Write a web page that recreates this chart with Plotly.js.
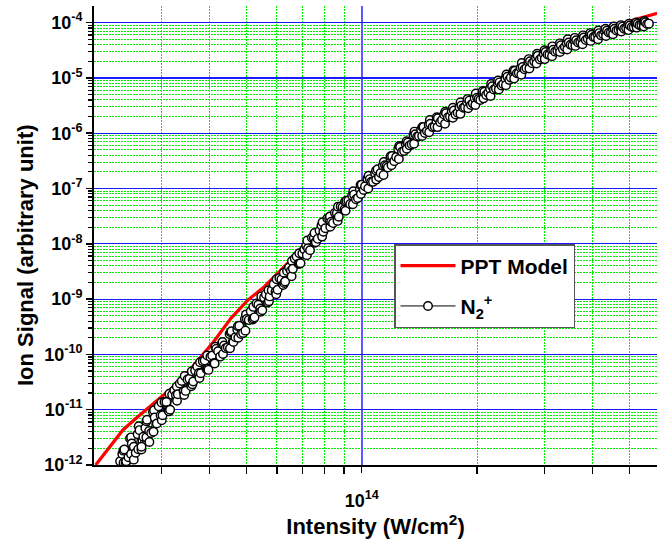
<!DOCTYPE html>
<html>
<head>
<meta charset="utf-8">
<script src="https://cdn.plot.ly/plotly-3.0.1.min.js"></script>
<style>html,body{margin:0;padding:0;background:#fff;}#chart{width:657px;height:539px;}</style>
</head>
<body>
<div id="chart"></div>
<script>
// N2+ measured points, intensity in units of 1e13 W/cm^2 (four read-outs of the dense band)
const n2IntensityA = [
 2.34, 2.40, 2.42, 2.46, 2.51, 2.54, 2.57, 2.63, 2.66, 2.69, 2.75, 2.79, 2.82, 2.88, 2.95,
 3.02, 3.09, 3.16, 3.24, 3.31, 3.39, 3.47, 3.55, 3.63, 3.72, 3.80, 3.89, 3.98, 4.07, 4.17,
 4.27, 4.37, 4.47, 4.57, 4.68, 4.79, 4.90, 5.01, 5.13, 5.25, 5.37, 5.50, 5.62, 5.75, 5.89,
 6.03, 6.17, 6.31, 6.46, 6.61, 6.76, 6.92, 7.08, 7.24, 7.41, 7.59, 7.76, 7.94, 8.13, 8.32,
 8.51, 8.71, 8.91, 9.12, 9.33, 9.55, 9.77, 10.0, 10.2, 10.5, 10.7, 11.0, 11.2, 11.5, 11.7,
 12.0, 12.3, 12.6, 12.9, 13.2, 13.5, 13.8, 14.1, 14.5, 14.8, 15.1, 15.5, 15.8, 16.2, 16.6,
 17.0, 17.4, 17.8, 18.2, 18.6, 19.1, 19.5, 20.0, 20.4, 20.9, 21.4, 21.9, 22.4, 22.9, 23.4,
 24.0, 24.5, 25.1, 25.7, 26.3, 26.9, 27.5, 28.2, 28.8, 29.5, 30.2, 30.9, 31.6, 32.4, 33.1,
 33.9, 34.7, 35.5, 36.3, 37.2, 38.0, 38.9, 39.8, 40.7, 41.7, 42.7, 43.7, 44.7, 45.7, 46.8,
 47.9, 49.0, 50.1, 51.3, 52.5, 53.7, 55.0, 56.2
];
const n2SignalA = [
 1.17e-12, 1.91e-12, 1.10e-12, 1.38e-12, 2.45e-12, 1.25e-12, 1.66e-12, 4.27e-12, 1.9e-12, 3.24e-12, 6.61e-12, 2.6e-12, 3.80e-12, 7.24e-12, 1.15e-11,
 7.94e-12, 1.38e-11, 1.00e-11, 2.24e-11, 1.91e-11, 3.31e-11, 2.19e-11, 3.63e-11, 3.24e-11, 6.03e-11, 4.57e-11, 7.76e-11, 5.25e-11, 9.55e-11, 1.26e-10,
 9.12e-11, 1.45e-10, 1.35e-10, 2.63e-10, 2.04e-10, 3.31e-10, 2.45e-10, 4.37e-10, 6.03e-10, 4.68e-10, 7.94e-10, 6.31e-10, 1.23e-9, 1.12e-9, 1.86e-9,
 1.48e-9, 2.29e-9, 2.09e-9, 3.72e-9, 3.55e-9, 5.89e-9, 4.47e-9, 7.94e-9, 8.32e-9, 1.29e-8, 1.07e-8, 1.74e-8, 1.66e-8, 2.88e-8, 2.51e-8,
 3.63e-8, 3.09e-8, 4.57e-8, 6.03e-8, 5.25e-8, 7.76e-8, 6.76e-8, 1.17e-7, 1.10e-7, 1.48e-7, 1.32e-7, 2.24e-7, 1.91e-7, 2.63e-7, 2.40e-7,
 3.89e-7, 3.72e-7, 5.62e-7, 4.79e-7, 6.76e-7, 6.31e-7, 9.55e-7, 8.91e-7, 1.29e-6, 1.10e-6, 1.48e-6, 1.32e-6, 1.86e-6, 1.74e-6, 2.29e-6,
 2.00e-6, 2.57e-6, 2.34e-6, 3.16e-6, 2.95e-6, 3.89e-6, 3.47e-6, 4.37e-6, 3.98e-6, 5.62e-6, 5.37e-6, 7.08e-6, 6.46e-6, 8.32e-6, 7.76e-6,
 1.05e-5, 1.02e-5, 1.35e-5, 1.23e-5, 1.58e-5, 1.51e-5, 2.00e-5, 1.98e-5, 2.51e-5, 2.29e-5, 2.95e-5, 2.63e-5, 3.24e-5, 3.09e-5, 3.89e-5,
 3.63e-5, 4.37e-5, 3.89e-5, 4.79e-5, 4.47e-5, 5.37e-5, 5.13e-5, 6.03e-5, 5.50e-5, 6.46e-5, 6.17e-5, 7.24e-5, 6.61e-5, 7.76e-5, 7.41e-5,
 8.51e-5, 7.94e-5, 8.91e-5, 8.32e-5, 9.55e-5, 9.12e-5, 1.02e-4, 9.6e-5
];
const n2IntensityB = [
 2.371, 2.427, 2.483, 2.541, 2.600, 2.661, 2.723, 2.786, 2.851, 2.917,
 2.985, 3.055, 3.126, 3.199, 3.273, 3.350, 3.428, 3.508, 3.589, 3.673,
 3.758, 3.846, 3.936, 4.027, 4.121, 4.217, 4.315, 4.416, 4.519, 4.624,
 4.732, 4.842, 4.955, 5.070, 5.188, 5.309, 5.433, 5.559, 5.689, 5.821,
 5.957, 6.095, 6.237, 6.383, 6.531, 6.683, 6.839, 6.998, 7.161, 7.328,
 7.499, 7.674, 7.852, 8.035, 8.222, 8.414, 8.610, 8.810, 9.016, 9.226,
 9.441, 9.661, 9.886, 10.12, 10.35, 10.59, 10.84, 11.09, 11.35, 11.61,
 11.89, 12.16, 12.45, 12.74, 13.03, 13.34, 13.65, 13.96, 14.29, 14.62,
 14.96, 15.31, 15.67, 16.03, 16.41, 16.79, 17.18, 17.58, 17.99, 18.41,
 18.84, 19.28, 19.72, 20.18, 20.65, 21.13, 21.63, 22.13, 22.65, 23.17,
 23.71, 24.27, 24.83, 25.41, 26.00, 26.61, 27.23, 27.86, 28.51, 29.17,
 29.85, 30.55, 31.26, 31.99, 32.73, 33.50, 34.28, 35.08, 35.89, 36.73,
 37.58, 38.46, 39.36, 40.27, 41.21, 42.17, 43.15, 44.16, 45.19, 46.24,
 47.32, 48.42, 49.55, 50.70, 51.88, 53.09, 54.33, 55.59
];
const n2SignalB = [
 1.58e-12, 1.17e-12, 3.02e-12, 2.14e-12, 3.59e-12, 2.14e-12, 4.68e-12, 4.12e-12, 9.12e-12, 5.62e-12,
 7.94e-12, 1.38e-11, 9.77e-12, 1.86e-11, 1.82e-11, 2.99e-11, 2.16e-11, 3.51e-11, 2.66e-11, 5.13e-11,
 4.62e-11, 7.50e-11, 5.37e-11, 9.02e-11, 7.00e-11, 1.14e-10, 1.57e-10, 1.30e-10, 2.34e-10, 1.68e-10,
 2.82e-10, 2.34e-10, 4.37e-10, 4.17e-10, 4.27e-10, 8.32e-10, 6.76e-10, 1.07e-9, 8.71e-10, 1.45e-9,
 1.36e-9, 2.40e-9, 1.80e-9, 3.24e-9, 3.27e-9, 5.43e-9, 4.37e-9, 6.68e-9, 9.23e-9, 7.67e-9,
 1.27e-8, 1.23e-8, 2.14e-8, 1.91e-8, 2.85e-8, 2.37e-8, 3.59e-8, 4.73e-8, 4.22e-8, 6.10e-8,
 7.50e-8, 6.38e-8, 9.66e-8, 9.44e-8, 1.51e-7, 1.33e-7, 1.88e-7, 1.62e-7, 2.60e-7, 2.54e-7,
 3.51e-7, 3.13e-7, 5.19e-7, 4.62e-7, 6.38e-7, 6.03e-7, 9.33e-7, 8.71e-7, 1.16e-6, 1.01e-6,
 1.43e-6, 1.29e-6, 1.66e-6, 1.58e-6, 2.19e-6, 1.95e-6, 2.51e-6, 2.19e-6, 2.95e-6, 2.88e-6,
 3.63e-6, 3.24e-6, 4.27e-6, 4.17e-6, 5.43e-6, 4.90e-6, 6.38e-6, 6.17e-6, 8.04e-6, 7.33e-6,
 9.77e-6, 9.23e-6, 1.27e-5, 1.22e-5, 1.53e-5, 1.43e-5, 1.95e-5, 1.84e-5, 2.29e-5, 2.16e-5,
 2.75e-5, 2.66e-5, 3.27e-5, 2.99e-5, 3.59e-5, 3.35e-5, 4.22e-5, 3.98e-5, 4.73e-5, 4.37e-5,
 5.13e-5, 4.84e-5, 5.89e-5, 5.50e-5, 6.31e-5, 5.89e-5, 6.92e-5, 6.61e-5, 7.76e-5, 7.24e-5,
 8.22e-5, 7.76e-5, 9.02e-5, 8.32e-5, 9.44e-5, 9.02e-5, 1.00e-4, 9.44e-5
];
const n2IntensityC = [
 2.39, 2.50, 2.61, 2.74, 2.86, 3.00, 3.14, 3.29, 3.44, 3.60,
 3.77, 3.95, 4.13, 4.33, 4.53, 4.75, 4.97, 5.21, 5.45, 5.71,
 5.98, 6.26, 6.56, 6.87, 7.19, 7.53, 7.88, 8.26, 8.65, 9.05,
 9.48, 9.93, 10.4, 10.9, 11.4, 11.9, 12.5, 13.1, 13.7, 14.4,
 15.0, 15.7, 16.5, 17.3, 18.1, 18.9, 19.8, 20.7, 21.7, 22.7,
 23.8, 24.9, 26.1, 27.3, 28.6, 30.0, 31.4, 32.9, 34.4, 36.0,
 37.7, 39.5, 41.4, 43.3, 45.3, 47.5, 49.7, 52.1, 54.5
];
const n2SignalC = [
 1.10e-12, 3.16e-12, 1.93e-12, 6.17e-12, 3.98e-12, 1.35e-11, 9.33e-12, 2.63e-11, 1.84e-11, 4.95e-11,
 3.76e-11, 9.55e-11, 6.84e-11, 1.68e-10, 1.29e-10, 3.24e-10, 2.69e-10, 7.24e-10, 5.89e-10, 1.45e-9,
 1.22e-9, 2.99e-9, 2.60e-9, 6.76e-9, 6.24e-9, 1.57e-8, 1.35e-8, 3.13e-8, 2.60e-8, 5.82e-8,
 5.19e-8, 1.16e-7, 1.00e-7, 2.11e-7, 1.76e-7, 3.85e-7, 3.43e-7, 7.16e-7, 6.46e-7, 1.30e-6,
 1.04e-6, 1.95e-6, 1.48e-6, 2.88e-6, 2.24e-6, 4.17e-6, 3.24e-6, 5.82e-6, 4.73e-6, 9.02e-6,
 7.41e-6, 1.36e-5, 1.14e-5, 2.19e-5, 1.82e-5, 3.16e-5, 2.48e-5, 4.22e-5, 3.27e-5, 5.31e-5,
 4.07e-5, 6.46e-5, 5.01e-5, 7.76e-5, 6.17e-5, 9.02e-5, 7.33e-5, 1.01e-4, 8.51e-5
];
const n2IntensityD = [
 2.387, 2.499, 2.617, 2.740, 2.870, 3.005, 3.146, 3.294, 3.450, 3.613,
 3.783, 3.961, 4.148, 4.343, 4.548, 4.762, 4.987, 5.222, 5.468, 5.725,
 5.996, 6.278, 6.574, 6.883, 7.208, 7.548, 7.903, 8.276, 8.666, 9.074,
 9.502, 9.950, 10.42, 10.91, 11.42, 11.96, 12.53, 13.11, 13.73, 14.38,
 15.06, 15.77, 16.52, 17.29, 18.11, 18.96, 19.85, 20.79, 21.77, 22.80,
 23.87, 25.00, 26.17, 27.40, 28.70, 30.05, 31.46, 32.94, 34.50, 36.13,
 37.83, 39.61, 41.48, 43.43, 45.48, 47.62, 49.87, 52.22, 54.68
];
const n2SignalD = [
 1.82e-12, 1.58e-12, 5.01e-12, 3.16e-12, 9.77e-12, 6.46e-12, 1.95e-11, 1.45e-11, 4.07e-11, 2.88e-11,
 7.24e-11, 5.50e-11, 1.38e-10, 1.02e-10, 2.51e-10, 2.00e-10, 5.25e-10, 4.47e-10, 1.12e-9, 9.12e-10,
 2.29e-9, 1.95e-9, 4.90e-9, 4.37e-9, 1.15e-8, 1.05e-8, 2.45e-8, 2.04e-8, 4.68e-8, 3.98e-8,
 8.91e-8, 7.94e-8, 1.70e-7, 1.45e-7, 3.02e-7, 2.63e-7, 5.89e-7, 5.25e-7, 1.07e-6, 8.91e-7,
 1.74e-6, 1.29e-6, 2.45e-6, 1.91e-6, 3.63e-6, 2.82e-6, 5.25e-6, 4.27e-6, 7.76e-6, 6.17e-6,
 1.15e-5, 9.77e-6, 1.86e-5, 1.48e-5, 2.75e-5, 2.19e-5, 3.72e-5, 2.95e-5, 5.01e-5, 3.80e-5,
 5.89e-5, 4.68e-5, 7.24e-5, 5.75e-5, 8.51e-5, 6.92e-5, 9.55e-5, 8.13e-5, 1.07e-4
];
// PPT model curve
const pptIntensity13 = [2.02, 2.20, 2.38, 2.58, 2.77, 3.00, 3.15, 3.38, 3.81, 4.12, 4.56, 5.05, 5.56, 6.16, 6.82, 7.83, 9.95, 12.65, 16.08, 20.44, 25.98, 31.66, 39.54, 49.34, 59.07];
const pptSignal = [1.0e-12, 2.11e-12, 4.30e-12, 7.08e-12, 1.06e-11, 1.70e-11, 2.27e-11, 3.44e-11, 8.97e-11, 1.75e-10, 4.55e-10, 9.64e-10, 1.66e-9, 3.36e-9, 6.82e-9, 1.78e-8, 9.40e-8, 4.97e-7, 1.73e-6, 4.71e-6, 1.39e-5, 3.20e-5, 5.50e-5, 1.04e-4, 1.47e-4];

const seriesNames = ['PPT Model', 'N<sub>2</sub><sup>+</sup>'];
const xTickVals = [1e14];
const xTickText = ['10<sup>14</sup>'];
const xMinorVals = [3e13, 4e13, 5e13, 6e13, 7e13, 8e13, 9e13, 2e14, 3e14, 4e14, 5e14];
const yExponents = [-12, -11, -10, -9, -8, -7, -6, -5, -4];
const yTickVals = yExponents.map(e => Math.pow(10, e));
const yTickText = yExponents.map(e => '10<sup>' + e + '</sup>');
const yMinorVals = [];
yExponents.slice(0, -1).forEach(e => { for (let m = 2; m <= 9; m++) yMinorVals.push(m * Math.pow(10, e)); });

// merge the read-outs into one series ordered by intensity
const pairs = (xs, ys) => xs.map((v, i) => [v, ys[i]]);
const n2Pts = pairs(n2IntensityA, n2SignalA)
  .concat(pairs(n2IntensityB, n2SignalB), pairs(n2IntensityC, n2SignalC), pairs(n2IntensityD, n2SignalD))
  .sort((a, b) => a[0] - b[0]);

const X0 = 94, X1 = 657, Y0 = 6, Y1 = 465;
const font = {family: 'Liberation Sans, Arial, sans-serif', weight: 'bold', color: '#000'};
const xRange = [Math.log10(2e13), Math.log10(5.9e14)];
const yRange = [-12, Math.log10(2e-4)];

const traces = [
  {x: [], y: [], xaxis: 'x', yaxis: 'y', showlegend: false, hoverinfo: 'skip', mode: 'markers'},
  {
    x: pptIntensity13.map(v => v * 1e13), y: pptSignal, xaxis: 'x2', yaxis: 'y2',
    name: seriesNames[0], mode: 'lines', legendgroup: 'a',
    line: {color: '#ff0000', width: 3.2}
  },
  {
    x: n2Pts.map(p => p[0] * 1e13), y: n2Pts.map(p => p[1]), xaxis: 'x2', yaxis: 'y2',
    name: seriesNames[1], mode: 'lines+markers', legendgroup: 'b',
    line: {color: '#000', width: 1},
    marker: {symbol: 'circle', size: 8.5, color: '#fff', line: {color: '#000', width: 1.45}}
  }
];

const tickFont = Object.assign({}, font, {size: 18});
const minorGrid = {showgrid: true, gridcolor: '#00f000', griddash: '2px,1px', gridwidth: 1};
const layout = {
  width: 657, height: 539,
  margin: {l: X0, r: 657 - X1, t: Y0, b: 539 - Y1},
  paper_bgcolor: '#fff', plot_bgcolor: '#fff',
  font: font,
  showlegend: true,
  // minor grid (green dotted) + minor ticks
  xaxis: Object.assign({
    type: 'log', range: xRange, tickmode: 'array', tickvals: xMinorVals, showticklabels: false,
    ticks: 'outside', ticklen: 7, tickwidth: 1.5, tickcolor: '#000',
    showline: true, linecolor: '#000', linewidth: 2,
    zeroline: false, automargin: false,
    title: {text: 'Intensity (W/cm<sup>2</sup>)', font: Object.assign({}, font, {size: 22}), standoff: 49}
  }, minorGrid),
  yaxis: Object.assign({
    type: 'log', range: yRange, tickmode: 'array', tickvals: yMinorVals, showticklabels: false,
    ticks: 'outside', ticklen: 4, tickwidth: 1.2, tickcolor: '#000',
    showline: true, linecolor: '#000', linewidth: 2,
    zeroline: false, automargin: false
  }, minorGrid),
  // major grid (blue) + labelled ticks
  xaxis2: {
    type: 'log', range: xRange, overlaying: 'x', anchor: 'y', side: 'bottom',
    tickmode: 'array', tickvals: xTickVals, ticktext: xTickText,
    ticks: 'outside', ticklen: 7, tickwidth: 1.5, tickcolor: '#000', ticklabelstandoff: 12,
    tickfont: tickFont, showline: false,
    showgrid: true, gridcolor: '#5a5aff', gridwidth: 1.6, zeroline: false, automargin: false
  },
  yaxis2: {
    type: 'log', range: yRange, overlaying: 'y', anchor: 'x', side: 'left',
    tickmode: 'array', tickvals: yTickVals, ticktext: yTickText,
    ticks: 'outside', ticklen: 7, tickwidth: 1.5, tickcolor: '#000',
    tickfont: tickFont, showline: false,
    showgrid: true, gridcolor: '#1a1aff', gridwidth: 1.2, zeroline: false, automargin: false
  },
  annotations: [{
    text: 'Ion Signal (arbitrary unit)', xref: 'paper', yref: 'paper',
    x: 0, xshift: 25 - X0, y: (Y1 - 255) / (Y1 - Y0), textangle: -90,
    showarrow: false, xanchor: 'center', yanchor: 'middle',
    font: Object.assign({}, font, {size: 22})
  }],
  legend: {
    x: (394 - X0) / (X1 - X0), y: (Y1 - 244) / (Y1 - Y0), xanchor: 'left', yanchor: 'top',
    bgcolor: '#fff', bordercolor: '#555', borderwidth: 1.5,
    font: Object.assign({}, font, {size: 21}), itemwidth: 55, tracegroupgap: 10
  }
};

Plotly.newPlot('chart', traces, layout, {staticPlot: true, displayModeBar: false});
</script>
</body>
</html>
